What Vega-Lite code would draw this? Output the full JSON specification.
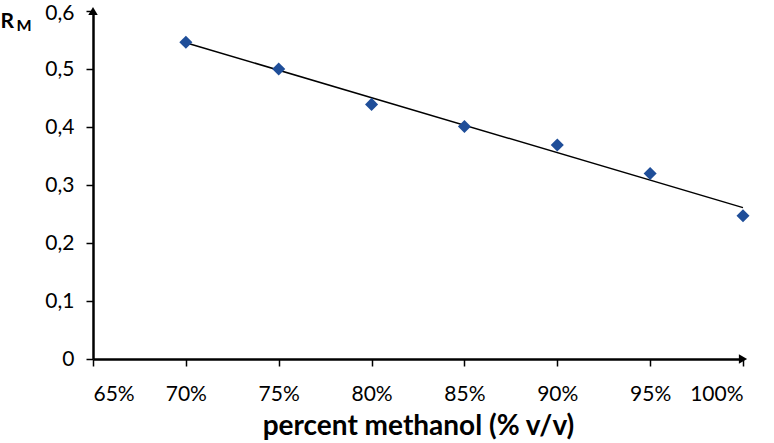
{
  "$schema": "https://vega.github.io/schema/vega-lite/v6.json",
  "width": 650,
  "height": 348,
  "autosize": {"type": "none"},
  "padding": {"left": 93, "top": 11, "right": 31, "bottom": 84},
  "background": "white",
  "config": {"view": {"stroke": null}, "font": "Lato"},
  "datasets": {
    "pts": [
      {"pct": 0.70, "rm": 0.546},
      {"pct": 0.75, "rm": 0.500},
      {"pct": 0.80, "rm": 0.439},
      {"pct": 0.85, "rm": 0.401},
      {"pct": 0.90, "rm": 0.369},
      {"pct": 0.95, "rm": 0.320},
      {"pct": 1.00, "rm": 0.247}
    ],
    "arrows": [
      {"pct": 1.0, "rm": 0, "shape": "triangle-right"},
      {"pct": 0.65, "rm": 0.6, "shape": "triangle-up"}
    ]
  },
  "layer": [
    {
      "data": {"name": "pts"},
      "transform": [{"regression": "rm", "on": "pct", "method": "linear"}],
      "mark": {"type": "line", "color": "black", "strokeWidth": 1.5},
      "encoding": {
        "x": {
          "field": "pct", "type": "quantitative",
          "scale": {"domain": [0.65, 1.0], "nice": false, "zero": false},
          "axis": {
            "values": [0.65, 0.70, 0.75, 0.80, 0.85, 0.90, 0.95, 1.0],
            "format": ".0%",
            "domainColor": "black", "domainWidth": 2.5,
            "tickColor": "black", "tickSize": 7, "tickWidth": 1.5,
            "labelFontSize": 21, "labelColor": "black", "labelPadding": 17,
            "grid": false,
            "title": "percent methanol (% v/v)",
            "titleFontSize": 28, "titleFontWeight": "bold", "titleColor": "black",
            "titlePadding": 8
          }
        },
        "y": {
          "field": "rm", "type": "quantitative",
          "scale": {"domain": [0, 0.6], "nice": false},
          "axis": {
            "values": [0, 0.1, 0.2, 0.3, 0.4, 0.5, 0.6],
            "labelExpr": "datum.value == 0 ? '0' : replace(format(datum.value, '.1f'), '.', ',')",
            "labelOffset": {"condition": {"test": "datum.value == 0.6", "value": 2}, "value": 0},
            "domainColor": "black", "domainWidth": 2.5,
            "tickColor": "black", "tickSize": 7, "tickWidth": 1.5,
            "labelFontSize": 21, "labelColor": "black", "labelPadding": 12,
            "grid": false,
            "title": "R",
            "titleAngle": 0, "titleFontSize": 21, "titleFontWeight": "bold", "titleColor": "black",
            "titleX": -93, "titleY": 16, "titleAlign": "left", "titleBaseline": "alphabetic"
          }
        }
      }
    },
    {
      "data": {"name": "pts"},
      "mark": {"type": "point", "shape": "diamond", "filled": true, "color": "#1f4e99", "size": 170, "opacity": 1},
      "encoding": {
        "x": {"field": "pct", "type": "quantitative"},
        "y": {
          "field": "rm", "type": "quantitative",
          "axis": {
            "orient": "left", "labels": false, "ticks": false, "domain": false, "grid": false,
            "title": "M",
            "titleAngle": 0, "titleFontSize": 16, "titleFontWeight": "bold", "titleColor": "black",
            "titleX": -77, "titleY": 19, "titleAlign": "left", "titleBaseline": "alphabetic"
          }
        }
      }
    },
    {
      "data": {"name": "arrows"},
      "mark": {"type": "point", "filled": true, "color": "black", "size": 90, "opacity": 1},
      "encoding": {
        "x": {"field": "pct", "type": "quantitative"},
        "y": {"field": "rm", "type": "quantitative", "axis": null},
        "shape": {"field": "shape", "type": "nominal", "scale": null}
      }
    }
  ],
  "resolve": {"axis": {"y": "independent"}}
}
